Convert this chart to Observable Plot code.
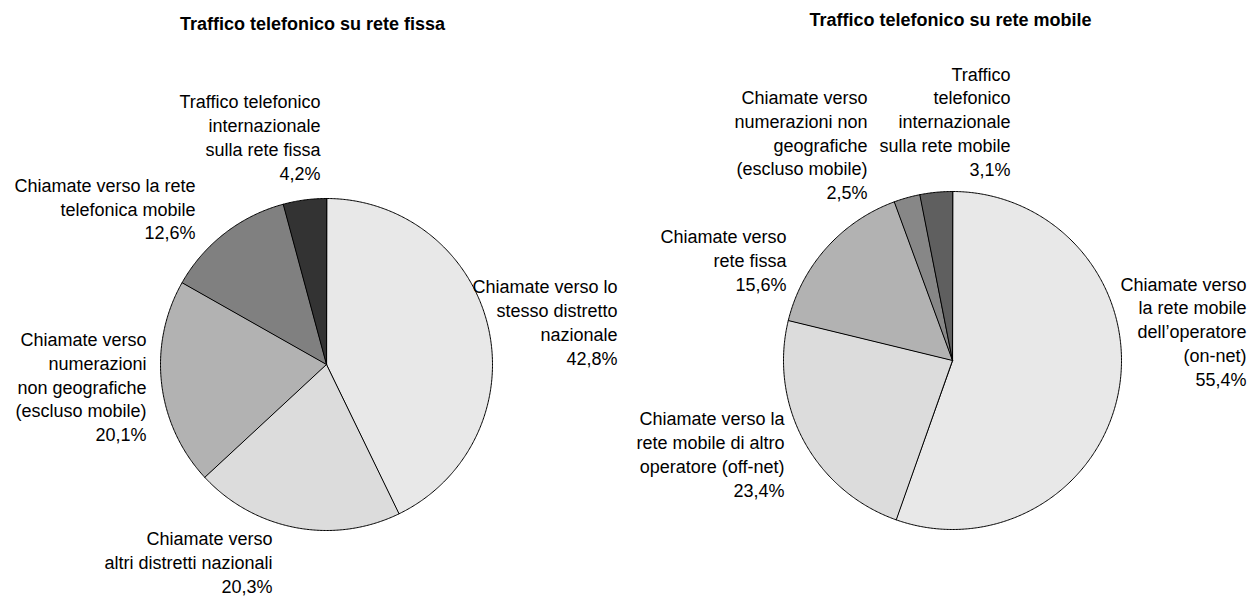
<!DOCTYPE html>
<html>
<head>
<meta charset="utf-8">
<script src="https://cdn.jsdelivr.net/npm/d3@7"></script>
<script src="https://cdn.jsdelivr.net/npm/@observablehq/plot@0.6"></script>
<style>
  html, body { margin: 0; padding: 0; background: #fff; }
  svg { display: block; }
</style>
</head>
<body>
<div id="chart"></div>
<script>
// ---- Data ----
const fixedTitle = "Traffico telefonico su rete fissa";
const fixedCategories = [
  "Chiamate verso lo\nstesso distretto\nnazionale",
  "Chiamate verso\naltri distretti nazionali",
  "Chiamate verso\nnumerazioni\nnon geografiche\n(escluso mobile)",
  "Chiamate verso la rete\ntelefonica mobile",
  "Traffico telefonico\ninternazionale\nsulla rete fissa"
];
const fixedValues = [42.8, 20.3, 20.1, 12.6, 4.2];

const mobileTitle = "Traffico telefonico su rete mobile";
const mobileCategories = [
  "Chiamate verso\nla rete mobile\ndell\u2019operatore\n(on-net)",
  "Chiamate verso la\nrete mobile di altro\noperatore (off-net)",
  "Chiamate verso\nrete fissa",
  "Chiamate verso\nnumerazioni non\ngeografiche\n(escluso mobile)",
  "Traffico\ntelefonico\ninternazionale\nsulla rete mobile"
];
const mobileValues = [55.4, 23.4, 15.6, 2.5, 3.1];

// ---- Styles / layout (kept apart from the data) ----
const fixedColors = ["#e8e8e8", "#dcdcdc", "#b2b2b2", "#808080", "#333333"];
const mobileColors = ["#e8e8e8", "#dcdcdc", "#b2b2b2", "#878787", "#5f5f5f"];
const W = 1248, H = 604;
const fixedPie = {cx: 326, cy: 364, r: 166};
const mobilePie = {cx: 952, cy: 360, r: 169};
const fixedLabelPos = [[617, 321], [272, 561], [146, 385.5], [195, 207.5], [320, 136]];
const mobileLabelPos = [[1246, 330], [784, 453], [786, 259], [867, 143.5], [1010, 120]];
const titlePos = [[312, 24], [950, 20]];
const FONT = "'Liberation Sans', Arial, Helvetica, sans-serif";

const fmt = v => v.toFixed(1).replace(".", ",") + "%";

function slices(values, colors, pie, tag) {
  const total = d3.sum(values);
  const pts = [];
  let acc = 0;
  values.forEach((v, i) => {
    const a0 = acc / total * 2 * Math.PI;
    acc += v;
    const a1 = acc / total * 2 * Math.PI;
    const n = Math.max(2, Math.ceil((a1 - a0) / (Math.PI / 360)));
    const key = tag + i;
    pts.push({key, color: colors[i], x: pie.cx, y: pie.cy});
    for (let k = 0; k <= n; k++) {
      const a = a0 + (a1 - a0) * k / n;
      pts.push({key, color: colors[i], x: pie.cx + pie.r * Math.sin(a), y: pie.cy - pie.r * Math.cos(a)});
    }
  });
  return pts;
}

function labels(cats, values, pos) {
  return cats.map((c, i) => ({text: c + "\n" + fmt(values[i]), x: pos[i][0], y: pos[i][1]}));
}

const slicePts = [
  ...slices(fixedValues, fixedColors, fixedPie, "f"),
  ...slices(mobileValues, mobileColors, mobilePie, "m")
];
const labelData = [
  ...labels(fixedCategories, fixedValues, fixedLabelPos),
  ...labels(mobileCategories, mobileValues, mobileLabelPos)
];
const titleData = [
  {text: fixedTitle, x: titlePos[0][0], y: titlePos[0][1]},
  {text: mobileTitle, x: titlePos[1][0], y: titlePos[1][1]}
];

const chart = Plot.plot({
  width: W,
  height: H,
  margin: 0,
  style: {fontFamily: FONT, background: "#fff"},
  x: {domain: [0, W], range: [0, W], axis: null},
  y: {domain: [0, H], range: [0, H], axis: null},
  color: {type: "identity"},
  marks: [
    Plot.line(slicePts, {
      x: "x", y: "y", z: "key", fill: "color",
      stroke: "#000", strokeWidth: 1, curve: "linear-closed", strokeLinejoin: "round"
    }),
    Plot.text(labelData, {
      x: "x", y: "y", text: "text", textAnchor: "end", lineAnchor: "middle",
      lineHeight: 1.32, fontSize: 18, fill: "#000", fontFamily: FONT
    }),
    Plot.text(titleData, {
      x: "x", y: "y", text: "text", textAnchor: "middle", lineAnchor: "middle",
      fontSize: 18, fontWeight: "bold", fill: "#000", fontFamily: FONT
    })
  ]
});
document.getElementById("chart").appendChild(chart);
</script>
</body>
</html>
